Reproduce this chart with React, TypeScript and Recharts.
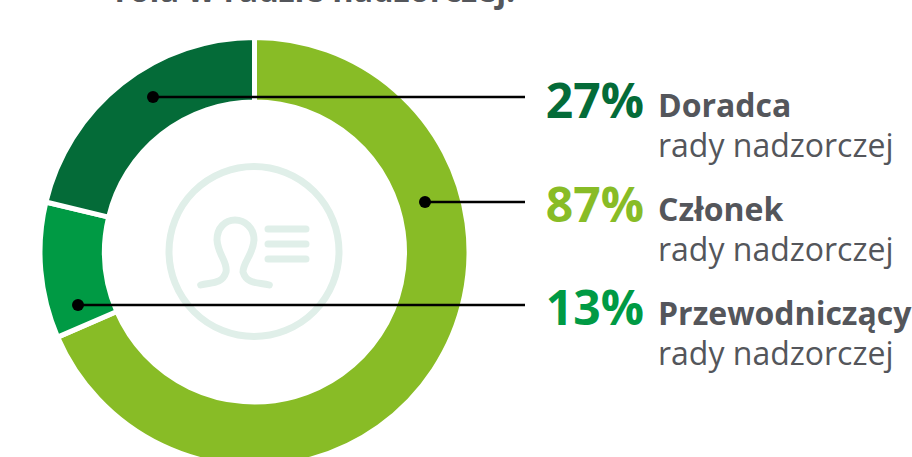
import { PieChart, Pie, Cell } from "recharts";

const roles = ["Członek", "Przewodniczący", "Doradca"];
const shares = [87, 13, 27];
const sliceColors = ["#88bc26", "#009a44", "#046b38"];

const data = roles.map((role, i) => ({ role, share: shares[i] }));

// legend rows, top to bottom
const legendRoles = ["Doradca", "Członek", "Przewodniczący"];
const legendValues = ["27%", "87%", "13%"];
const legendColors = ["#046b38", "#88bc26", "#009a44"];
const legendSubtitle = "rady nadzorczej";
const title = "rola w radzie nadzorczej:";

const FONT = "'Open Sans', sans-serif";
const GREY = "#54565b";
const ICON = "#e0efe9";

const leaderY = [97, 202, 305];
const leaderDotX = [153, 425, 78];

export default function App() {
  return (
    <div style={{ position: "absolute", left: 0, top: 0, width: 912, height: 457, overflow: "hidden" }}>
      <PieChart width={912} height={457} margin={{ top: 0, right: 0, bottom: 0, left: 0 }}>
        <Pie
          data={data}
          dataKey="share"
          nameKey="role"
          cx={254.5}
          cy={252}
          innerRadius={150}
          outerRadius={214.5}
          startAngle={90}
          endAngle={-270}
          stroke="#fff"
          strokeWidth={5}
          isAnimationActive={false}
        >
          {data.map((d, i) => (
            <Cell key={d.role} fill={sliceColors[i]} />
          ))}
        </Pie>
      </PieChart>

      {/* the chart paints its Pie above any svg children, so annotations go in an overlay */}
      <svg width={912} height={457} style={{ position: "absolute", left: 0, top: 0 }}>
        <text x={315} y={2} textAnchor="middle" fontFamily={FONT} fontSize={32.5} fontWeight={700} fill={GREY}>
          {title}
        </text>

        {/* icon in the middle of the ring */}
        <g fill="none" stroke={ICON} strokeWidth={7} strokeLinecap="round">
          <circle cx={254} cy={251.5} r={85} />
          <path d="M200.7 285 C210 282 222 285 226 272 C228 262 218 255 217 240 C217 228 225 220 235 220 C245 220 254 228 254 240 C253 255 243 262 243 272 C247 285 259 282 269.3 285" />
          <path d="M268 229 H306 M268 244 H306 M268 259 H306" />
        </g>

        {leaderY.map((y, i) => (
          <g key={y}>
            <line x1={leaderDotX[i]} y1={y} x2={525} y2={y} stroke="#000" strokeWidth={2.5} />
            <circle cx={leaderDotX[i]} cy={y} r={6} fill="#000" />
          </g>
        ))}

        {legendRoles.map((role, i) => (
          <g key={role} fontFamily={FONT}>
            <text x={644} y={118 + [0, 104, 207][i]} textAnchor="end" fontSize={48} fontWeight={700} fill={legendColors[i]}>
              {legendValues[i]}
            </text>
            <text x={658} y={117 + [0, 104, 208][i]} fontSize={32} fontWeight={700} fill={GREY}>
              {role}
            </text>
            <text x={658} y={157 + [0, 104, 208][i]} fontSize={32} fill={GREY}>
              {legendSubtitle}
            </text>
          </g>
        ))}
      </svg>
    </div>
  );
}
